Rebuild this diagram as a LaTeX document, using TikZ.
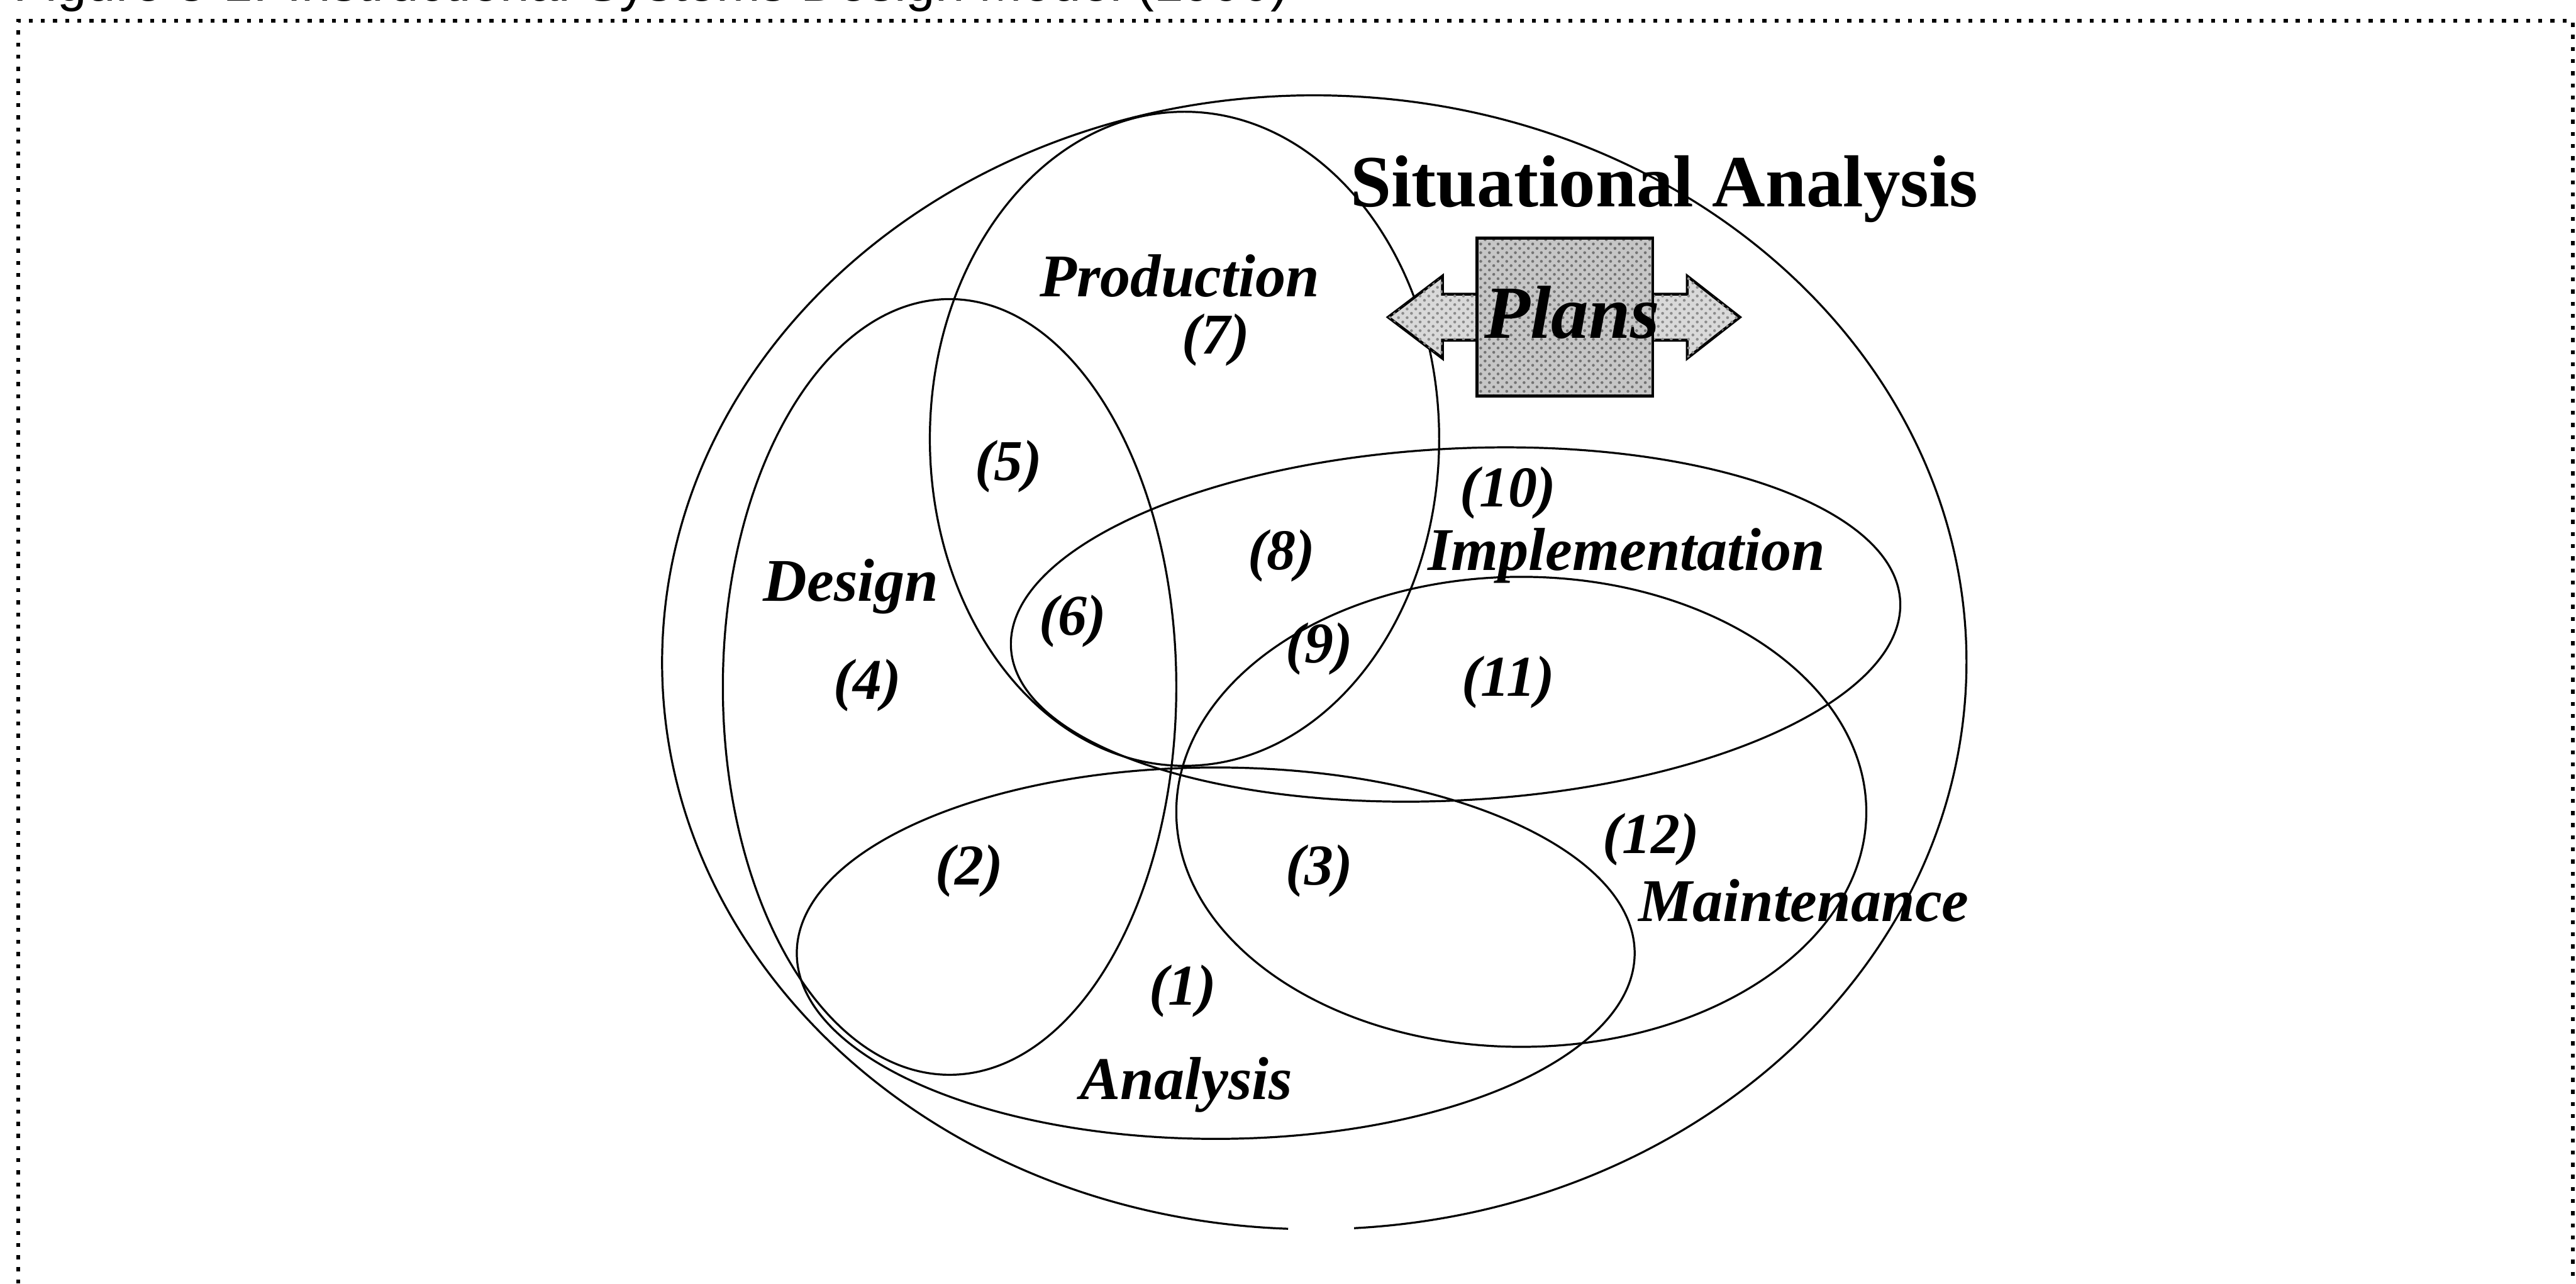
\documentclass[tikz,border=0pt]{standalone}
\usepackage{fontspec}
\setmainfont{Liberation Serif}
\newfontfamily\capfont{Liberation Sans}
\usetikzlibrary{patterns}
\begin{document}
\begin{tikzpicture}[x=0.02cm, y=-0.02cm,
  petal/.style={draw=black, line width=0.7pt},
  phase/.style={font=\fontsize{21}{21}\selectfont\bfseries\itshape, inner sep=0pt},
  region/.style={font=\fontsize{20}{20}\selectfont\bfseries\itshape, inner sep=0pt},
  heading/.style={font=\fontsize{25.5}{25.5}\selectfont\bfseries, inner sep=0pt},
  planstext/.style={font=\fontsize{26}{26}\selectfont\bfseries\itshape, inner sep=0pt},
  frame/.style={line width=1.4pt, dash pattern=on 1.4pt off 2.8pt},
  capt/.style={font=\fontsize{18.2}{18.2}\selectfont\capfont, inner sep=0pt},
  planbody/.style={draw=black, line width=1pt},
]
\useasboundingbox (0,0) rectangle (1568,781);

% caption, cut off by the top edge of the page
\begin{scope}
  \clip (0,0) rectangle (1568,781);
  \node[capt, anchor=base west] (caption) at (8,0.6)
    {Figure 3-1: Instructional Systems Design Model (1990)};
\end{scope}

% dotted frame
\draw[frame] (11,781) -- (11,12.7) -- (1566,12.7) -- (1566,781);

% situational analysis boundary, open at the bottom
\draw[petal] (800,403) ++(92.3:397 and 345)
  arc[start angle=92.3, end angle=446.5, x radius=397, y radius=345];

% phase ellipses
\draw[petal] (578,418) ellipse [x radius=138, y radius=236];            % design
\draw[petal] (721,267) ellipse [x radius=155, y radius=199];            % production
\draw[petal, rotate around={3:(886,380)}]
  (886,380) ellipse [x radius=271, y radius=107];                        % implementation
\draw[petal] (926,494) ellipse [x radius=210, y radius=143];            % maintenance
\draw[petal] (740,580) ellipse [x radius=255, y radius=113];            % analysis

% plans: double arrow behind a square
\path[planbody, fill=gray!30]
  (845,193) -- (878,168) -- (878,179) -- (1027,179) -- (1027,168)
  -- (1059,193) -- (1027,218) -- (1027,207) -- (878,207) -- (878,218) -- cycle;
\fill[pattern=crosshatch dots, pattern color=black!45]
  (845,193) -- (878,168) -- (878,179) -- (1027,179) -- (1027,168)
  -- (1059,193) -- (1027,218) -- (1027,207) -- (878,207) -- (878,218) -- cycle;
\path[planbody, fill=gray!45] (899,145) rectangle (1006,241);
\fill[pattern=crosshatch dots, pattern color=black!55] (899,145) rectangle (1006,241);
\draw[planbody] (899,145) rectangle (1006,241);
\node[planstext] (plans) at (957,190) {Plans};

% labels
\node[heading] (situational) at (1013,115) {Situational Analysis};
\node[phase] (production) at (718,168) {Production};
\node[phase] (implementation) at (990,338) {Implementation};
\node[phase] (design) at (518,357) {Design};
\node[phase] (maintenance) at (1098,548) {Maintenance};
\node[phase] (analysis) at (722,660) {Analysis};

\node[region] (r7) at (740,207) {(7)};
\node[region] (r5) at (614,284) {(5)};
\node[region] (r10) at (918,300) {(10)};
\node[region] (r8) at (780,338) {(8)};
\node[region] (r6) at (653,378) {(6)};
\node[region] (r9) at (803,395) {(9)};
\node[region] (r4) at (528,417) {(4)};
\node[region] (r11) at (918,415) {(11)};
\node[region] (r12) at (1005,511) {(12)};
\node[region] (r2) at (590,530) {(2)};
\node[region] (r3) at (803,530) {(3)};
\node[region] (r1) at (720,603) {(1)};
\end{tikzpicture}
\end{document}
